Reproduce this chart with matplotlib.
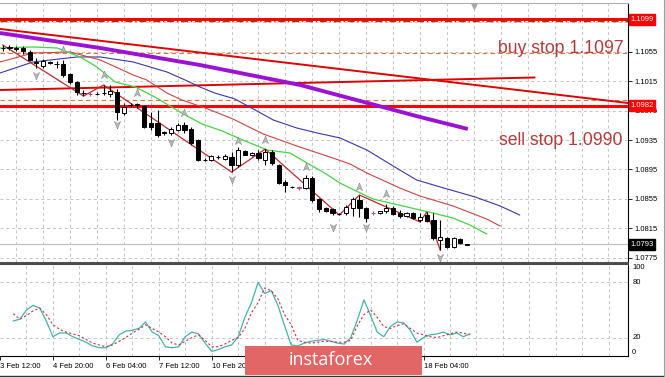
import numpy as np
import matplotlib

matplotlib.use("Agg")

import matplotlib.pyplot as plt
from matplotlib.patches import Rectangle
from matplotlib.path import Path
from matplotlib.transforms import blended_transform_factory

plt.rcParams["font.family"] = ["Liberation Sans", "DejaVu Sans"]

# ---------------- data (EURUSD H4) ----------------
bar_open = [1.10602, 1.10602, 1.10589, 1.10602, 1.10548, 1.10412, 1.10357, 1.10412, 1.10385, 1.10385,
            1.10249, 1.10140, 1.09990, 1.09977, 1.09977, 1.09990, 1.09977, 1.10004, 1.09718, 1.09827,
            1.09827, 1.09813, 1.09582, 1.09582, 1.09447, 1.09447, 1.09487, 1.09555, 1.09501, 1.09351,
            1.09079, 1.09079, 1.09120, 1.09093, 1.09120, 1.09011, 1.09201, 1.09147, 1.09174, 1.09079,
            1.09188, 1.09011, 1.08779, 1.08712, 1.08698, 1.08698, 1.08834, 1.08549, 1.08427, 1.08413,
            1.08345, 1.08359, 1.08427, 1.08535, 1.08427, 1.08359, 1.08359, 1.08386, 1.08427, 1.08359,
            1.08317, 1.08359, 1.08263, 1.08331, 1.08263, 1.07990, 1.08017, 1.07896, 1.08004, 1.07925]
bar_high = [1.10643, 1.10643, 1.10629, 1.10629, 1.10575, 1.10466, 1.10453, 1.10425, 1.10425, 1.10439,
            1.10262, 1.10153, 1.10031, 1.10004, 1.10004, 1.10099, 1.10099, 1.10045, 1.09854, 1.09854,
            1.09854, 1.09827, 1.09731, 1.09759, 1.09474, 1.09528, 1.09582, 1.09596, 1.09528, 1.09365,
            1.09106, 1.09147, 1.09147, 1.09161, 1.09188, 1.09256, 1.09215, 1.09188, 1.09215, 1.09228,
            1.09215, 1.09025, 1.08807, 1.08725, 1.08725, 1.08875, 1.08861, 1.08562, 1.08440, 1.08427,
            1.08359, 1.08467, 1.08576, 1.08603, 1.08440, 1.08386, 1.08372, 1.08480, 1.08454, 1.08399,
            1.08372, 1.08372, 1.08359, 1.08372, 1.08359, 1.08263, 1.08031, 1.08031, 1.08017, 1.07930]
bar_low = [1.10561, 1.10575, 1.10561, 1.10521, 1.10425, 1.10330, 1.10330, 1.10385, 1.10330, 1.10208,
           1.10113, 1.09963, 1.09949, 1.09949, 1.09963, 1.09963, 1.09936, 1.09623, 1.09691, 1.09800,
           1.09786, 1.09514, 1.09487, 1.09392, 1.09419, 1.09419, 1.09474, 1.09447, 1.09283, 1.09065,
           1.09065, 1.09065, 1.09093, 1.09079, 1.08915, 1.08984, 1.09147, 1.09133, 1.09079, 1.09011,
           1.09011, 1.08752, 1.08644, 1.08698, 1.08671, 1.08685, 1.08508, 1.08372, 1.08372, 1.08331,
           1.08331, 1.08331, 1.08317, 1.08304, 1.08236, 1.08331, 1.08345, 1.08359, 1.08331, 1.08290,
           1.08304, 1.08277, 1.08236, 1.08236, 1.07990, 1.07855, 1.07883, 1.07883, 1.07939, 1.07925]
bar_close = [1.10598, 1.10605, 1.10592, 1.10561, 1.10439, 1.10398, 1.10425, 1.10398, 1.10382, 1.10235,
             1.10140, 1.10004, 1.09987, 1.09974, 1.09970, 1.09987, 1.10017, 1.09731, 1.09800, 1.09824,
             1.09830, 1.09528, 1.09528, 1.09419, 1.09444, 1.09501, 1.09555, 1.09487, 1.09310, 1.09079,
             1.09076, 1.09133, 1.09117, 1.09133, 1.09011, 1.09215, 1.09147, 1.09174, 1.09106, 1.09188,
             1.09038, 1.08766, 1.08739, 1.08709, 1.08701, 1.08834, 1.08535, 1.08413, 1.08386, 1.08359,
             1.08342, 1.08440, 1.08549, 1.08427, 1.08290, 1.08356, 1.08386, 1.08427, 1.08345, 1.08317,
             1.08359, 1.08290, 1.08304, 1.08249, 1.08017, 1.08031, 1.07896, 1.08017, 1.07950, 1.07930]
pink_doji = [13, 44, 55]

# moving averages: (bar index, price)
ma_green_x = [-0.4, 4.5, 8.1, 11.5, 14.0, 16.7, 19.7, 22.6, 26.6, 29.6, 32.6, 35.3, 39.3, 42.7,
              45.2, 47.6, 50.1, 51.6, 55.0, 60.1, 63.9, 66.9, 69.4, 71.9]
ma_green_y = [1.10602, 1.10616, 1.10602, 1.10480, 1.10344, 1.10140, 1.10072, 1.09936, 1.09718,
              1.09569, 1.09474, 1.09365, 1.09215, 1.09174, 1.09038, 1.08915, 1.08766, 1.08698,
              1.08549, 1.08440, 1.08359, 1.08290, 1.08195, 1.08073]
ma_red_x = [-0.4, 4.5, 10.0, 14.5, 19.4, 21.4, 24.4, 26.6, 30.1, 34.2, 38.7, 43.7, 48.6, 51.6,
            54.1, 59.0, 62.0, 66.9, 71.9, 73.9]
ma_red_y = [1.10412, 1.10534, 1.10548, 1.10439, 1.10235, 1.10167, 1.09990, 1.09895, 1.09786,
            1.09637, 1.09433, 1.09269, 1.09120, 1.09025, 1.08902, 1.08698, 1.08589, 1.08454,
            1.08277, 1.08181]
ma_blue_x = [-0.4, 4.5, 11.0, 14.5, 19.4, 24.4, 27.1, 29.3, 31.5, 34.5, 37.5, 40.2, 43.7, 46.7,
             50.1, 54.1, 59.0, 61.5, 65.0, 70.2, 73.9, 76.8]
ma_blue_y = [1.10262, 1.10412, 1.10480, 1.10480, 1.10412, 1.10276, 1.10167, 1.10072, 1.09990,
             1.09909, 1.09759, 1.09623, 1.09514, 1.09447, 1.09379, 1.09215, 1.08943, 1.08807,
             1.08712, 1.08576, 1.08454, 1.08331]
ma_purple_x = [-0.4, 14.5, 29.3, 44.2, 62.0, 69.1]
ma_purple_y = [1.10806, 1.10602, 1.10371, 1.10099, 1.09664, 1.09501]

zigzag_x = [0, 12, 15, 34, 39, 50, 53, 62, 63, 65]
zigzag_y = [1.10643, 1.09949, 1.10099, 1.08915, 1.09228, 1.08331, 1.08603, 1.08236, 1.08372, 1.07855]

fractal_up_x = [9, 15, 20, 27, 35, 39, 45, 53, 57]
fractal_up_y = [1.10575, 1.10235, 1.09990, 1.09718, 1.09337, 1.09351, 1.08984, 1.08712, 1.08617]
fractal_dn_x = [5, 17, 25, 34, 49, 54, 65]
fractal_dn_y = [1.10235, 1.09569, 1.09324, 1.08821, 1.08168, 1.08168, 1.07760]

# drawn objects
trend_down_x = [-0.4, 92.9]
trend_down_y = [1.10861, 1.09854]
trend_flat_x = [-0.4, 79.0]
trend_flat_y = [1.10031, 1.10201]
level_high = 1.1099
level_low = 1.0982
buy_stop = 1.1097
sell_stop = 1.0990
order_line = 1.1053
bid = 1.0793

# stochastic
stoch_k = [38, 40, 50, 55, 52, 38, 21, 25, 25, 21, 18, 15, 11, 9, 9, 13, 23, 27, 28, 30,
           37, 26, 22, 10, 9, 10, 21, 26, 24, 14, 5, 7, 10, 12, 21, 42, 58, 80, 68, 71,
           55, 33, 12, 11, 14, 16, 17, 18, 16, 14, 13, 20, 39, 61, 44, 26, 21, 32, 37, 36,
           28, 15, 20, 23, 24, 26, 23, 25, 21, 24]
stoch_d = [46, 40, 44, 49, 52, 45, 34, 29, 26, 24, 22, 18, 14, 12, 10, 12, 16, 20, 25, 29,
           34, 30, 26, 21, 14, 12, 16, 20, 23, 17, 10, 10, 13, 17, 20, 30, 47, 58, 74, 71,
           62, 45, 34, 17, 15, 14, 15, 16, 16, 15, 15, 17, 33, 45, 50, 42, 32, 30, 33, 35,
           30, 25, 23, 21, 20, 22, 24, 26, 25, 23]

price_ticks = [1.0775, 1.0815, 1.0855, 1.0895, 1.0935, 1.0975, 1.1015, 1.1055]
# labels at 38/46/54 sit under the watermark box in the screenshot
time_tick_idx = [-2, 6, 14, 22, 30, 38, 46, 54, 62]
time_tick_lbl = ["3 Feb 12:00", "4 Feb 20:00", "6 Feb 04:00", "7 Feb 12:00", "10 Feb 20:00",
                 "", "", "", "18 Feb 04:00"]

# ---------------- figure ----------------
W, H = 665, 377
fig = plt.figure(figsize=(W / 100, H / 100), dpi=100)


def px_box(left, top, right, bottom):
    return [left / W, 1 - bottom / H, (right - left) / W, (bottom - top) / H]


ax = fig.add_axes(px_box(0, 3, 628, 262))
ax2 = fig.add_axes(px_box(0, 264, 628, 356))

XMIN, XMAX = -0.4, 92.9
GRID = dict(color="#c4c4c4", lw=0.7, dashes=(3, 3), zorder=0)

# main panel -------------------------------------------------------------
ax.set_xlim(XMIN, XMAX)
ax.set_ylim(1.07692, 1.11214)

for gx in range(2, 93, 4):
    ax.axvline(gx, **GRID)
    ax2.axvline(gx, **GRID)
for gy in price_ticks + [1.1095]:
    ax.axhline(gy, **GRID)

ax.axhline(bid, color="#bdbdbd", lw=0.8, zorder=1)
ax.axhline(order_line, color="#e07040", lw=0.8, dashes=(4, 3), zorder=2)
ax.axhline(sell_stop, color="#e07040", lw=0.8, dashes=(4, 3), zorder=2)
ax.axhline(buy_stop, color="#8b4513", lw=1.0, dashes=(5, 2, 1, 2), zorder=2)
ax.axhline(level_high, color="#ff0000", lw=2.2, zorder=3)
ax.axhline(level_low, color="#ff0000", lw=2.2, zorder=3)

ax.plot(trend_down_x, trend_down_y, color="#e00000", lw=1.4, zorder=3)
ax.plot(trend_flat_x, trend_flat_y, color="#e00000", lw=1.4, zorder=3)

ax.plot(ma_purple_x, ma_purple_y, color="#9a12d2", lw=2.8, solid_capstyle="butt", zorder=3)
ax.plot(ma_blue_x, ma_blue_y, color="#3838a8", lw=0.8, zorder=3)
ax.plot(ma_red_x, ma_red_y, color="#cc4444", lw=0.8, zorder=3)
ax.plot(ma_green_x, ma_green_y, color="#44d444", lw=0.9, zorder=3)
ax.plot(zigzag_x, zigzag_y, color="#c0282d", lw=0.9, zorder=4)

# candles
o = np.array(bar_open)
hi = np.array(bar_high)
lo = np.array(bar_low)
c = np.array(bar_close)
idx = np.arange(len(c))
edge = np.array(["#b0508a" if i in pink_doji else "black" for i in idx])
ax.vlines(idx, lo, hi, colors=edge, lw=0.8, zorder=5)
bottom = np.minimum(o, c)
height = np.maximum(np.abs(c - o), 0.00009)
fill = np.where(c >= o, "white", "black")
ax.bar(idx, height, bottom=bottom, width=0.62, color=fill, edgecolor=edge, lw=0.7, zorder=6)

# fractal arrows
arrow_up = Path([(0, 1), (0.7, -0.7), (0, -0.2), (-0.7, -0.7), (0, 1)])
arrow_dn = Path([(0, -1), (0.7, 0.7), (0, 0.2), (-0.7, 0.7), (0, -1)])
ax.scatter(fractal_up_x, fractal_up_y, marker=arrow_up, s=40, color="#b8b8b8",
           edgecolor="#8c8c8c", lw=0.4, zorder=7)
ax.scatter(fractal_dn_x, fractal_dn_y, marker=arrow_dn, s=40, color="#b8b8b8",
           edgecolor="#8c8c8c", lw=0.4, zorder=7)
ax.scatter([70], [1.1117], marker="v", s=14, color="#a8a8a8", zorder=7, clip_on=False)

# text labels
ax.text(73.6, 1.10600, "buy stop 1.1097", color="#b53a3a", fontsize=12.7,
        ha="left", va="center", zorder=8)
ax.text(73.7, 1.09340, "sell stop 1.0990", color="#b53a3a", fontsize=12.7,
        ha="left", va="center", zorder=8)

# right price axis
ax.yaxis.tick_right()
ax.set_yticks(price_ticks)
ax.set_yticklabels([f"{t:.4f}" for t in price_ticks])
ax.tick_params(axis="y", length=3, width=0.6, labelsize=5.5, pad=2, colors="black")
ax.set_xticks([])
trans = blended_transform_factory(ax.transAxes, ax.transData)
for val, bg in [(level_high, "#ff0000"), (level_low, "#ff0000"), (bid, "black")]:
    ax.text(1.004, val, f"{val:.4f}", transform=trans, color="white", fontsize=5.5,
            ha="left", va="center", clip_on=False, zorder=9,
            bbox=dict(boxstyle="square,pad=0.22", fc=bg, ec=bg))

ax.spines["left"].set_visible(False)
ax.spines["top"].set_color("#b0b0b0")
ax.spines["right"].set_color("black")
ax.spines["right"].set_linewidth(0.8)
ax.spines["bottom"].set_color("#555555")

# stochastic panel ---------------------------------------------------------
ax2.set_xlim(XMIN, XMAX)
ax2.set_ylim(0, 100)
ax2.axhline(80, **GRID)
ax2.axhline(20, **GRID)
ax2.plot(idx, stoch_k, color="#45b3aa", lw=0.9, zorder=3)
ax2.plot(idx, stoch_d, color="#d0303c", lw=0.8, dashes=(2, 2), zorder=3)

ax2.yaxis.tick_right()
ax2.set_yticks([0, 20, 80, 100])
ax2.set_yticklabels(["0", "20", "80", "100"])
ax2.tick_params(axis="y", length=0, labelsize=5.5, pad=3)
for lbl, va in zip(ax2.get_yticklabels(), ["bottom", "center", "center", "top"]):
    lbl.set_va(va)

ax2.set_xticks(time_tick_idx)
ax2.set_xticklabels(time_tick_lbl, ha="left")
ax2.tick_params(axis="x", length=3, width=0.6, labelsize=5.5, pad=2)

ax2.spines["left"].set_visible(False)
ax2.spines["top"].set_color("#4a4a4a")
ax2.spines["top"].set_linewidth(1.5)
ax2.spines["right"].set_color("black")
ax2.spines["right"].set_linewidth(0.8)
ax2.spines["bottom"].set_color("black")

# watermark box ------------------------------------------------------------
fig.add_artist(Rectangle((245 / W, 1 - 375 / H), 177 / W, 29 / H, transform=fig.transFigure,
                         facecolor="#e36666", edgecolor="none", zorder=20))
fig.text(331 / W, 1 - 360 / H, "instaforex", color="white", fontsize=13,
         family=["Open Sans", "DejaVu Sans"], ha="center", va="center", zorder=21)

fig.add_artist(plt.Line2D([0, 1], [1 - 375.5 / H] * 2, transform=fig.transFigure,
                          color="#333333", lw=1.0, zorder=19))
fig.add_artist(plt.Line2D([663.5 / W] * 2, [0, 1], transform=fig.transFigure,
                          color="#a0a0a0", lw=0.8, zorder=19))

fig.savefig("out.png", dpi=100)
